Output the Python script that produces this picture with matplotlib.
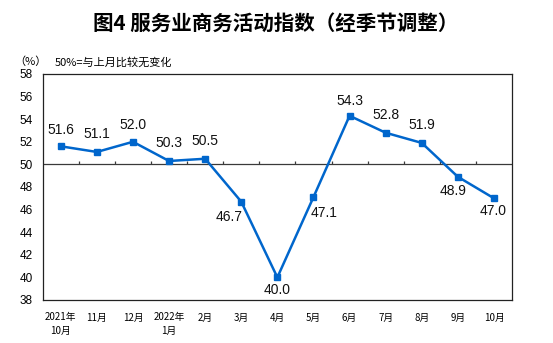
import matplotlib
matplotlib.use("Agg")
import matplotlib.pyplot as plt
import numpy as np

# Monthly services business activity index (seasonally adjusted)
months = ["2021年\n10月", "11月", "12月", "2022年\n1月", "2月", "3月", "4月",
          "5月", "6月", "7月", "8月", "9月", "10月"]
index_values = [51.6, 51.1, 52.0, 50.3, 50.5, 46.7, 40.0,
                47.1, 54.3, 52.8, 51.9, 48.9, 47.0]
y_ticks = list(range(38, 59, 2))

# Label offsets (pixels) relative to each point
label_offsets = [(0, 16), (0, 17.5), (0, 17), (0, 17.5), (0, 17.5),
                 (-12.5, -15), (0, -12.3), (10.6, -16), (0, 15),
                 (0, 17.7), (0, 17.7), (-5, -14), (-1, -13)]

cjk = ["Noto Sans CJK SC", "DejaVu Sans"]
num_font = ["Liberation Sans", "DejaVu Sans"]

fig = plt.figure(figsize=(5.53, 3.43), dpi=100)
ax = fig.add_axes([0.0772, 0.1254, 0.8487, 0.6589])

x = np.arange(len(months))
line_color = "#0066CC"
ax.plot(x, index_values, color=line_color, lw=1.8, marker="s", ms=4.3,
        zorder=3, solid_joinstyle="miter")

# Reference line at 50 with small category separators
ax.axhline(50, color="#3a3a3a", lw=0.9, zorder=2)
bounds = np.arange(len(months) + 1) - 0.5
ax.vlines(bounds[1:-1], 50, 50.3, color="#3a3a3a", lw=0.9, zorder=2)

for xi, v, (dx, dy) in zip(x, index_values, label_offsets):
    ax.annotate(f"{v:.1f}", (xi, v), xytext=(dx, dy), textcoords="offset pixels",
                ha="center", va="center", fontsize=10, family=num_font,
                color="#111111")

ax.set_xlim(-0.5, len(months) - 0.5)
ax.set_ylim(38, 58)
ax.set_yticks(y_ticks)
ax.set_yticklabels([str(t) for t in y_ticks], family=num_font, fontsize=8.5)
ax.set_xticks(x)
ax.set_xticklabels(months, family=cjk, fontsize=7, linespacing=1.45)
ax.tick_params(axis="y", length=0, pad=7)
ax.tick_params(axis="x", length=0, pad=9)

for s in ax.spines.values():
    s.set_color("#222222")
    s.set_linewidth(0.9)

fig.text(0.498, 0.933, "图4 服务业商务活动指数（经季节调整）", ha="center", va="center",
         fontsize=14.8, fontweight="bold", family=cjk)
fig.text(0.055, 0.819, "（%）", ha="center", va="center", fontsize=8, family=cjk)
fig.text(0.099, 0.819, "50%=与上月比较无变化", ha="left", va="center", fontsize=8,
         family=cjk)

fig.savefig("out.png", dpi=100)
